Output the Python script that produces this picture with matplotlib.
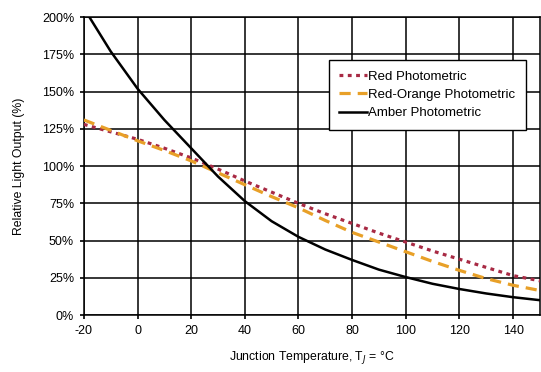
import numpy as np
import matplotlib.pyplot as plt
from matplotlib.ticker import FuncFormatter

plt.rcParams['font.family'] = ['Liberation Sans', 'DejaVu Sans']
plt.rcParams['axes.unicode_minus'] = False

# junction temperature, deg C
temp = [-20, -10, 0, 10, 20, 30, 40, 50, 60, 70, 80, 90, 100, 110, 120, 130, 140, 150]

# relative light output, percent of the 25 C value
red = [128, 123, 118, 112, 105.5, 98, 90, 82.5, 75, 68, 61.5, 55, 49, 43, 37.5, 32, 26.5, 23]
red_orange = [131, 124, 117, 110.5, 103.5, 95.5, 87.5, 79.5, 72, 63.5, 55.5, 49, 42.5, 36, 30, 24.5, 20, 16.5]
amber = [206, 177, 152, 131, 112, 93, 76.5, 63, 52.5, 44, 37, 30.5, 25.5, 21, 17.5, 14.5, 12, 10]

xticks = [-20, 0, 20, 40, 60, 80, 100, 120, 140]
yticks = [0, 25, 50, 75, 100, 125, 150, 175, 200]

fig = plt.figure(figsize=(5.41, 3.72), dpi=100)
ax = fig.add_axes([0.155, 0.153, 0.843, 0.801])

ax.plot(temp, red, color='#a82a44', linestyle=(0, (1.2, 1.4)), linewidth=2.3,
        label='Red Photometric', zorder=3)
ax.plot(temp, red_orange, color='#e8a028', linestyle=(0, (3.5, 2.2)), linewidth=2.3,
        label='Red-Orange Photometric', zorder=3)
ax.plot(temp, amber, color='black', linewidth=1.8, label='Amber Photometric', zorder=4)

ax.set_xlim(-20, 150)
ax.set_ylim(0, 200)
ax.set_xticks(xticks)
ax.set_yticks(yticks)
ax.yaxis.set_major_formatter(FuncFormatter(lambda v, pos: '%d%%' % v))
ax.grid(True, color='black', linewidth=1.1)
ax.set_axisbelow(True)
for side in ax.spines.values():
    side.set_linewidth(1.1)
ax.tick_params(direction='out', length=3, width=1.2, labelsize=9, pad=4)

ax.set_xlabel('Junction Temperature, T$_J$ = °C', fontsize=8.8, labelpad=9)
ax.set_ylabel('Relative Light Output (%)', fontsize=8.8, labelpad=12)

leg = ax.legend(loc='upper right', bbox_to_anchor=(0.969, 0.856), fontsize=9.5,
                frameon=True, fancybox=False, handlelength=2.1, handletextpad=0.1,
                borderpad=0.8, labelspacing=0.45, borderaxespad=0)
leg.get_frame().set_edgecolor('black')
leg.get_frame().set_linewidth(1)
leg.get_frame().set_alpha(1)

fig.savefig('out.png', dpi=100)
